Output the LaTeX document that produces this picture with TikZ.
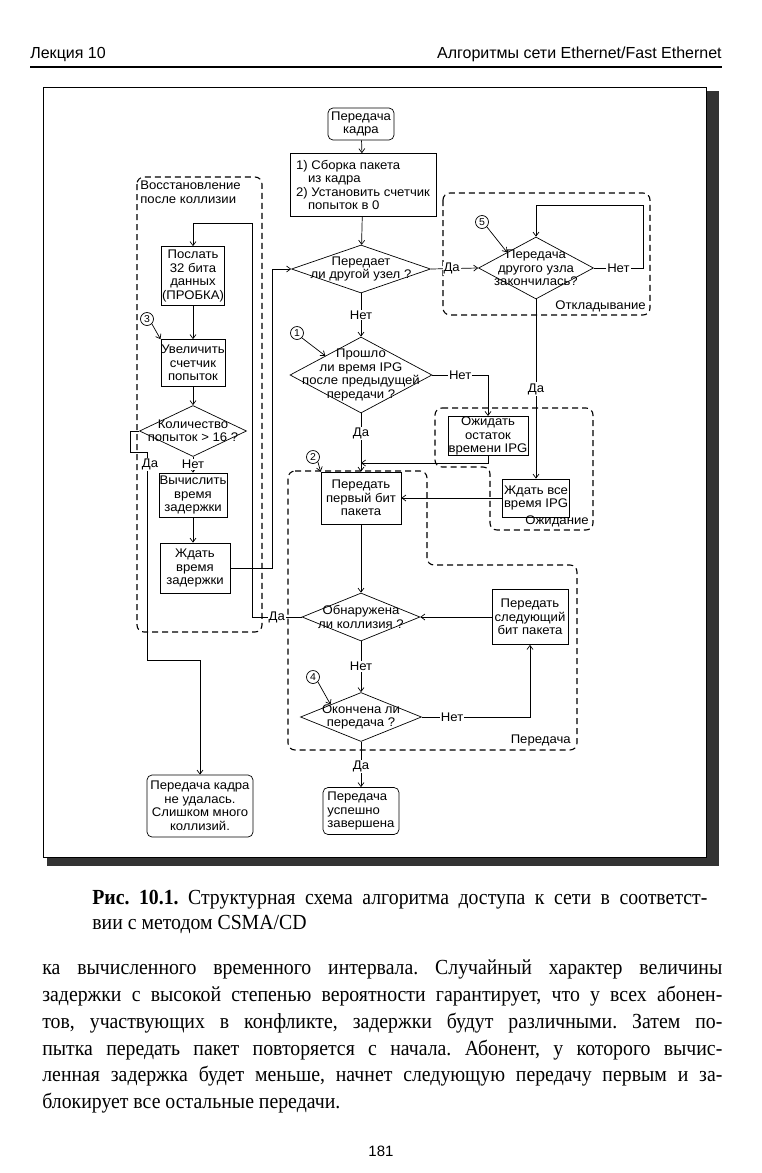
\documentclass[tikz,border=0pt]{standalone}
\usepackage{fontspec}
\setmainfont{Liberation Serif}
\setsansfont{Liberation Sans}
\newfontfamily\chartfont[FakeStretch=1.05]{Liberation Sans}
\newfontfamily\bookfont[FakeStretch=0.92]{Liberation Serif}
\usetikzlibrary{shapes.geometric, arrows.meta}
\frenchspacing

\begin{document}
\begin{tikzpicture}[
    x=1pt, y=-1pt,
    line width=0.7pt,
    >={Straight Barb[length=4pt,width=6pt]},
    font=\chartfont\fontsize{12.5}{13.5}\selectfont,
    proc/.style={
        draw,
        rectangle,
        inner sep=0.5pt,
        align=center
    },
    term/.style={
        proc,
        rounded corners=5pt
    },
    decision/.style 2 args={
        draw,
        diamond,
        inner sep=0pt,
        minimum width=#1,
        minimum height=#2
    },
    dtext/.style={
        align=center,
        inner sep=0pt
    },
    answer/.style={
        fill=white,
        inner sep=1pt
    },
    group/.style={
        draw,
        dash pattern=on 6pt off 4pt,
        line width=1.1pt,
        rounded corners=7pt
    },
    marker/.style={
        draw,
        circle,
        inner sep=0pt,
        minimum size=13pt,
        font=\chartfont\fontsize{10}{12}\selectfont
    },
    headtext/.style={
        anchor=base west,
        inner sep=0pt,
        font=\sffamily\fontsize{16}{18}\selectfont
    },
    bodytext/.style={
        anchor=base west,
        inner sep=0pt,
        font=\bookfont\fontsize{21.5}{27}\selectfont
    }
    ]
    \useasboundingbox (0,0) rectangle (761,1173);

    % Page head
    \node[headtext] (lecture) at (30,58) {Лекция 10};
    \node[headtext, anchor=base east] (chapter) at (722,58) {Алгоритмы сети Ethernet/Fast Ethernet};
    \draw[line width=2.5pt] (30,67) -- (722,67);

    % Frame with shadow
    \fill[black!80] (706,91) rectangle (719,866);
    \fill[black!80] (47,857) rectangle (719,866);
    \draw[line width=0.8pt] (43,87) rectangle (706,857);

    % Groups
    \draw[group] (137,177) rectangle (262,632);
    \node[anchor=north west, align=left, inner sep=1pt] (rectitle) at (139,180) {Восстановление\\после коллизии};
    \draw[group] (443,193) rectangle (650,315);
    \node[anchor=south east, inner sep=1pt] (defertitle) at (647,313) {Откладывание};
    \draw[group] (435,408) -- (593,408) -- (593,530) -- (490,530) -- (490,467) -- (435,467) -- cycle;
    \node[anchor=south east, inner sep=1pt] (waittitle) at (590,528) {Ожидание};
    \draw[group] (288,471) -- (427,471) -- (427,565) -- (577,565) -- (577,750) -- (288,750) -- cycle;
    \node[anchor=south east, inner sep=1pt] (sendtitle) at (572,747) {Передача};

    % Main column
    \node[term, minimum width=66pt, minimum height=32pt] (start) at (361,124) {Передача\\кадра};
    \node[proc, align=left, minimum width=146pt, minimum height=63pt] (assemble) at (363,185) {1) Сборка пакета\\\hspace*{12pt}из кадра\\2) Установить счетчик\\\hspace*{12pt}попыток в 0};
    \node[decision={139pt}{48pt}, label={[dtext]center:Передает\\ли другой узел ?}] (busy) at (361,269) {};
    \node[decision={142pt}{76pt}, label={[dtext]center:Прошло\\ли время IPG\\после предыдущей\\передачи ?}] (ipg) at (361,375) {};
    \node[proc, minimum width=80pt, minimum height=38pt] (waitrest) at (488,436) {Ожидать\\остаток\\времени IPG};
    \node[proc, minimum width=80pt, minimum height=52pt] (firstbit) at (361,498) {Передать\\первый бит\\пакета};
    \node[proc, minimum width=67pt, minimum height=38pt] (waitall) at (536,498) {Ждать все\\время IPG};
    \node[decision={118pt}{48pt}, label={[dtext]center:Обнаружена\\ли коллизия ?}] (collision) at (361,617) {};
    \node[proc, minimum width=76pt, minimum height=55pt] (nextbit) at (530,617) {Передать\\следующий\\бит пакета};
    \node[decision={121pt}{49pt}, label={[dtext]center:Окончена ли\\передача ?}] (done) at (361,717) {};
    \node[term, align=left, minimum width=76pt, minimum height=47pt] (success) at (361,811) {Передача\\успешно\\завершена};

    % Deferring
    \node[decision={115pt}{62pt}, label={[dtext]center:Передача\\другого узла\\закончилась?}] (defer) at (536,268) {};

    % Recovery column
    \node[proc, minimum width=63pt, minimum height=59pt] (jam) at (193,276) {Послать\\32 бита\\данных\\(ПРОБКА)};
    \node[proc, minimum width=62pt, minimum height=47pt] (incr) at (193,363) {Увеличить\\счетчик\\попыток};
    \node[decision={107pt}{51pt}, label={[dtext]center:Количество\\попыток > 16 ?}] (count) at (193,431) {};
    \node[proc, minimum width=68pt, minimum height=44pt] (calc) at (193,495) {Вычислить\\время\\задержки};
    \node[proc, minimum width=70pt, minimum height=50pt] (backoff) at (195,568) {Ждать\\время\\задержки};
    \node[term, minimum width=106pt, minimum height=62pt] (fail) at (200,806) {Передача кадра\\не удалась.\\Слишком много\\коллизий.};

    % Numbered points
    \node[marker] (m1) at (297,333) {1};
    \node[marker] (m2) at (313,457) {2};
    \node[marker] (m3) at (147,319) {3};
    \node[marker] (m4) at (313,677) {4};
    \node[marker] (m5) at (482,222) {5};

    % Bends
    \coordinate (merge) at (361,463);
    \coordinate (dloop) at (643,205);
    \coordinate (jamtop) at (252,223);
    \coordinate (retry) at (272,269);
    \coordinate (yes1) at (130,452);
    \coordinate (yes2) at (147,660);

    % Connectors
    \draw[->] (start) -- (assemble);
    \draw[->] (assemble) -- (busy);
    \draw[->] (busy) -- node[answer] {Нет} (ipg);
    \draw[->] (busy.east) -- node[answer, pos=0.44] {Да} (defer.west);
    \draw[->] (defer.east) -| node[answer, pos=0.25] {Нет} (dloop) -| (defer.north);
    \draw[->] (defer) -- node[answer] {Да} (waitall);
    \draw[->] (ipg.east) -| node[answer, pos=0.25] {Нет} (waitrest.north);
    \draw[->] (ipg) -- node[answer, pos=0.35] {Да} (firstbit);
    \draw[->] (waitrest.south) |- (merge);
    \draw[->] (waitall) -- (firstbit);
    \draw[->] (firstbit) -- (collision);
    \draw[->] (nextbit.west) -- (collision.east);
    \draw[->] (collision) -- node[answer] {Нет} (done);
    \draw[->] (done.east) -| node[answer, pos=0.14] {Нет} (nextbit.south);
    \draw[->] (done) -- node[answer, pos=0.55] {Да} (success);
    \draw[->] (collision.west) -| node[answer, pos=0.25] {Да} (jamtop) -| (jam.north);
    \draw[->] (jam) -- (incr);
    \draw[->] (incr) -- (count);
    \draw[->] (count) -- node[answer] {Нет} (calc);
    \draw[->] (calc) -- (backoff.north -| calc);
    \draw[->] (backoff.east) -| (retry) -- (busy.west);
    \draw[->] (count.west) -| (yes1) -| node[answer, pos=0.53, xshift=3pt] {Да} (yes2) -| (fail.north);
    \draw[->] (m1.south east) -- (ipg.north west);
    \draw[->] (m2.south east) -- (firstbit.north west);
    \draw[->] (m3.south east) -- (incr.north west);
    \draw[->] (m4.south east) -- (done.north west);
    \draw[->] (m5.south east) -- (defer.north west);

    % Caption
    \node[bodytext] (cap1) at (92,904) {\makebox[615pt][s]{\textbf{Рис. 10.1.} Структурная схема алгоритма доступа к сети в соответст-}};
    \node[bodytext] (cap2) at (92,929) {вии с методом CSMA/CD};

    % Text
    \node[bodytext] (body1) at (42,974) {\makebox[680pt][s]{ка вычисленного временного интервала. Случайный характер величины}};
    \node[bodytext] (body2) at (42,1001) {\makebox[680pt][s]{задержки с высокой степенью вероятности гарантирует, что у всех абонен-}};
    \node[bodytext] (body3) at (42,1028) {\makebox[680pt][s]{тов, участвующих в конфликте, задержки будут различными. Затем по-}};
    \node[bodytext] (body4) at (42,1055) {\makebox[680pt][s]{пытка передать пакет повторяется с начала. Абонент, у которого вычис-}};
    \node[bodytext] (body5) at (42,1081) {\makebox[680pt][s]{ленная задержка будет меньше, начнет следующую передачу первым и за-}};
    \node[bodytext] (body6) at (42,1108) {блокирует все остальные передачи.};
    \node[headtext, anchor=base, font=\sffamily\fontsize{15}{18}\selectfont] (pagenum) at (381,1156) {181};
\end{tikzpicture}
\end{document}
